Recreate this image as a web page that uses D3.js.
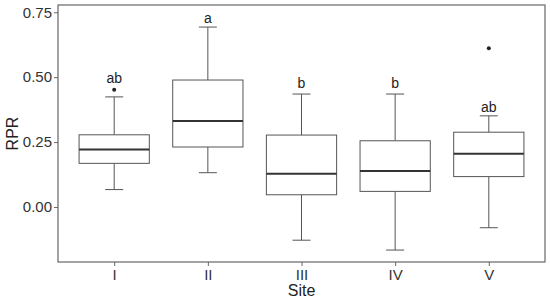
<!DOCTYPE html>
<html><head><meta charset="utf-8">
<script src="https://cdn.jsdelivr.net/npm/d3@7"></script>
<style>
html,body{margin:0;padding:0;background:#fff;}
svg{display:block;font-family:"Liberation Sans",Arial,sans-serif;}
</style></head>
<body>
<svg id="chart" width="550" height="300"></svg>
<script>
const categories = ["I","II","III","IV","V"];
const q1 =      [0.168, 0.231, 0.047, 0.060, 0.117];
const medians = [0.221, 0.331, 0.128, 0.139, 0.205];
const q3 =      [0.278, 0.489, 0.277, 0.255, 0.288];
const whiskerLow =  [0.067, 0.132, -0.128, -0.166, -0.080];
const whiskerHigh = [0.424, 0.693, 0.435, 0.435, 0.351];
const outliers = [[0.452], [], [], [], [0.611]];
const groupLabels = ["ab","a","b","b","ab"];
const labelValues = [0.497, 0.728, 0.478, 0.478, 0.384];
const yTicks = [0.00, 0.25, 0.50, 0.75];

const svg = d3.select("#chart");
const L = 58, R = 545, T = 5, B = 262;

const unit = (R - L) / (categories.length - 1 + 1.2);
const xs = d3.scalePoint().domain(categories).range([L + 0.6 * unit, R - 0.6 * unit]);
const y = d3.scaleLinear().domain([-0.212, 0.778]).range([B, T]);

const boxW = 0.75 * unit, capW = 18;
const lineCol = "#555", axisCol = "#666";

const data = categories.map((c, i) => ({c, q1: q1[i], med: medians[i], q3: q3[i], lo: whiskerLow[i], hi: whiskerHigh[i], out: outliers[i], lab: groupLabels[i], lv: labelValues[i]}));

const g = svg.append("g");
data.forEach(d => {
  const cx = xs(d.c);
  g.append("line").attr("x1", cx).attr("x2", cx).attr("y1", y(d.q3)).attr("y2", y(d.hi)).attr("stroke", lineCol).attr("stroke-width", 1);
  g.append("line").attr("x1", cx).attr("x2", cx).attr("y1", y(d.q1)).attr("y2", y(d.lo)).attr("stroke", lineCol).attr("stroke-width", 1);
  g.append("line").attr("x1", cx - capW/2).attr("x2", cx + capW/2).attr("y1", y(d.hi)).attr("y2", y(d.hi)).attr("stroke", lineCol).attr("stroke-width", 1);
  g.append("line").attr("x1", cx - capW/2).attr("x2", cx + capW/2).attr("y1", y(d.lo)).attr("y2", y(d.lo)).attr("stroke", lineCol).attr("stroke-width", 1);
  g.append("rect").attr("x", cx - boxW/2).attr("y", y(d.q3)).attr("width", boxW).attr("height", y(d.q1) - y(d.q3))
    .attr("fill", "#fff").attr("stroke", lineCol).attr("stroke-width", 1);
  g.append("line").attr("x1", cx - boxW/2).attr("x2", cx + boxW/2).attr("y1", y(d.med)).attr("y2", y(d.med)).attr("stroke", "#333").attr("stroke-width", 2);
  d.out.forEach(o => g.append("circle").attr("cx", cx).attr("cy", y(o)).attr("r", 2).attr("fill", "#222"));
  g.append("text").attr("x", cx).attr("y", y(d.lv)).attr("dy", "0.35em").attr("text-anchor", "middle")
    .attr("font-size", 14).attr("fill", "#222").text(d.lab);
});

svg.append("rect").attr("x", L).attr("y", T).attr("width", R - L).attr("height", B - T)
  .attr("fill", "none").attr("stroke", axisCol).attr("stroke-width", 1.2);

const yAxis = svg.append("g").attr("transform", `translate(${L},0)`)
  .call(d3.axisLeft(y).tickValues(yTicks).tickFormat(d3.format(".2f")).tickSize(4).tickPadding(2));
yAxis.select(".domain").remove();
yAxis.selectAll(".tick line").attr("stroke", axisCol);
yAxis.selectAll("text").attr("font-size", 15).attr("fill", "#333").attr("font-family", "Liberation Sans, Arial, sans-serif");

const xAxis = svg.append("g").attr("transform", `translate(0,${B})`)
  .call(d3.axisBottom(xs).tickSize(4).tickPadding(3));
xAxis.select(".domain").remove();
xAxis.selectAll(".tick line").attr("stroke", axisCol);
xAxis.selectAll("text").attr("font-size", 15).attr("fill", "#333").attr("font-family", "Liberation Sans, Arial, sans-serif");

svg.append("text").attr("x", (L + R) / 2).attr("y", 296).attr("text-anchor", "middle")
  .attr("font-size", 16).attr("fill", "#222").text("Site");
svg.append("text").attr("transform", `translate(18,${(T + B) / 2}) rotate(-90)`).attr("text-anchor", "middle")
  .attr("font-size", 16).attr("fill", "#222").text("RPR");
</script>
</body></html>
